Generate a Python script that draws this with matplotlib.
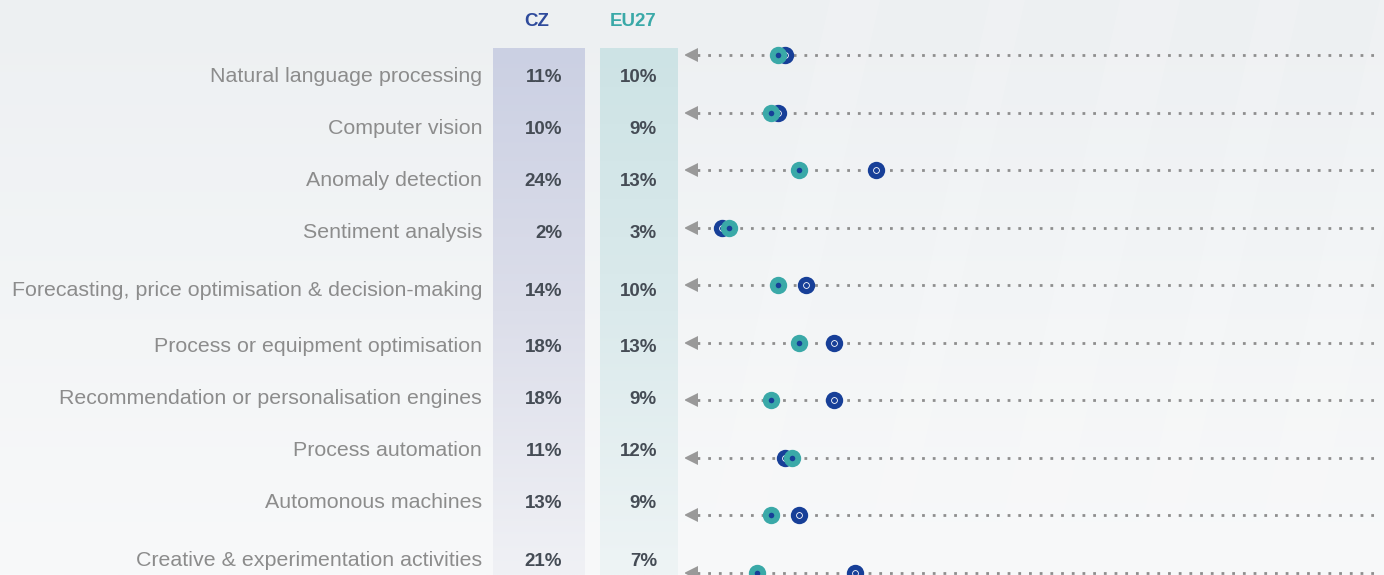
import numpy as np
import matplotlib.pyplot as plt
from matplotlib.colors import LinearSegmentedColormap

# --- DATA ---
categories = [
    "Natural language processing",
    "Computer vision",
    "Anomaly detection",
    "Sentiment analysis",
    "Forecasting, price optimisation & decision-making",
    "Process or equipment optimisation",
    "Recommendation or personalisation engines",
    "Process automation",
    "Automonous machines",
    "Creative & experimentation activities",
]
cz = [11, 10, 24, 2, 14, 18, 18, 11, 13, 21]
eu27 = [10, 9, 13, 3, 10, 13, 9, 12, 9, 7]
series_names = ["CZ", "EU27"]

# --- STYLE / LAYOUT ---
W, H = 1384, 575
cz_color = "#173f98"
eu_color = "#3aa9a8"
cz_head = "#2f4b9c"
label_color = "#8c8c8c"
pct_color = "#454c55"
line_color = "#8e8e8e"
label_y = [74, 126, 178, 230, 288, 345, 397, 449, 501, 559]   # text rows (px)
row_top, row_step = 55, 57.56                                  # dot rows (px)
px0, px_per_pct = 708, 7.0                                     # dot scale (px)

plt.rcParams["font.family"] = ["Liberation Sans", "DejaVu Sans"]

fig = plt.figure(figsize=(W / 100, H / 100), dpi=100)

# background layer in pixel coords
bg = fig.add_axes([0, 0, 1, 1])
grad = np.linspace(0, 1, 256).reshape(-1, 1)
bg.imshow(grad, extent=(0, W, H, 0), aspect="auto",
          cmap=LinearSegmentedColormap.from_list("bg", ["#edf0f2", "#f8f9fa"]))

# faint diagonal sheen on the right
for x0, w in [(700, 50), (860, 35), (990, 60), (1130, 40), (1250, 55)]:
    bg.fill([x0, x0 + w, x0 + w + 130, x0 + 130], [H, H, 0, 0],
            color="white", alpha=0.12, lw=0)

# column bands
bg.imshow(grad, extent=(493, 585, H, 48), aspect="auto",
          cmap=LinearSegmentedColormap.from_list("cz", ["#cbd0e3", "#dcdeea", "#f0f1f5"]))
bg.imshow(grad, extent=(600, 678, H, 48), aspect="auto",
          cmap=LinearSegmentedColormap.from_list("eu", ["#cde3e5", "#dbeaec", "#eef4f5"]))

bg.text(537, 22, series_names[0], ha="center", va="center",
        fontsize=13.5, fontweight="bold", color=cz_head)
bg.text(633, 22, series_names[1], ha="center", va="center",
        fontsize=13.5, fontweight="bold", color=eu_color)

for name, a, b, y in zip(categories, cz, eu27, label_y):
    bg.text(482, y + 7.5, name, ha="right", va="baseline",
            fontsize=15.4, color=label_color)
    bg.text(562, y + 7.5, f"{a}%", ha="right", va="baseline",
            fontsize=13.5, fontweight="bold", color=pct_color)
    bg.text(657, y + 7.5, f"{b}%", ha="right", va="baseline",
            fontsize=13.5, fontweight="bold", color=pct_color)

bg.set_xlim(0, W)
bg.set_ylim(H, 0)
bg.axis("off")

# dot plot layer, x in percent
left_px = 685
ax = fig.add_axes([left_px / W, 0, 1 - left_px / W, 1])
ax.patch.set_visible(False)
ax.set_xlim((left_px - px0) / px_per_pct, (W - px0) / px_per_pct)
ax.set_ylim((H - row_top) / row_step, -row_top / row_step)
ax.axis("off")

rows = np.arange(len(categories))
x_start = (697 - px0) / px_per_pct
x_end = (1376 - px0) / px_per_pct
arrow_x = (691 - px0) / px_per_pct
for r in rows:
    ax.plot([x_start, x_end], [r, r], color=line_color, lw=2.0,
            linestyle=(0, (1, 2.85)), dash_capstyle="butt", zorder=1)
ax.plot(np.full(len(rows), arrow_x), rows, ls="none", marker="<", ms=10,
        color="#999999", mew=0, zorder=1)

# CZ: dark blue disc with thin white ring
ax.plot(cz, rows, ls="none", marker="o", ms=12.5, color=cz_color, mew=0, zorder=3)
ax.plot(cz, rows, ls="none", marker="o", ms=4.2, mfc="none", mec="white", mew=0.6, zorder=4)
# EU27: teal disc with dark blue centre
ax.plot(eu27, rows, ls="none", marker="o", ms=12.5, color=eu_color, mew=0, zorder=5)
ax.plot(eu27, rows, ls="none", marker="o", ms=4, color=cz_color, mew=0, zorder=6)

fig.savefig("out.png", dpi=100)
